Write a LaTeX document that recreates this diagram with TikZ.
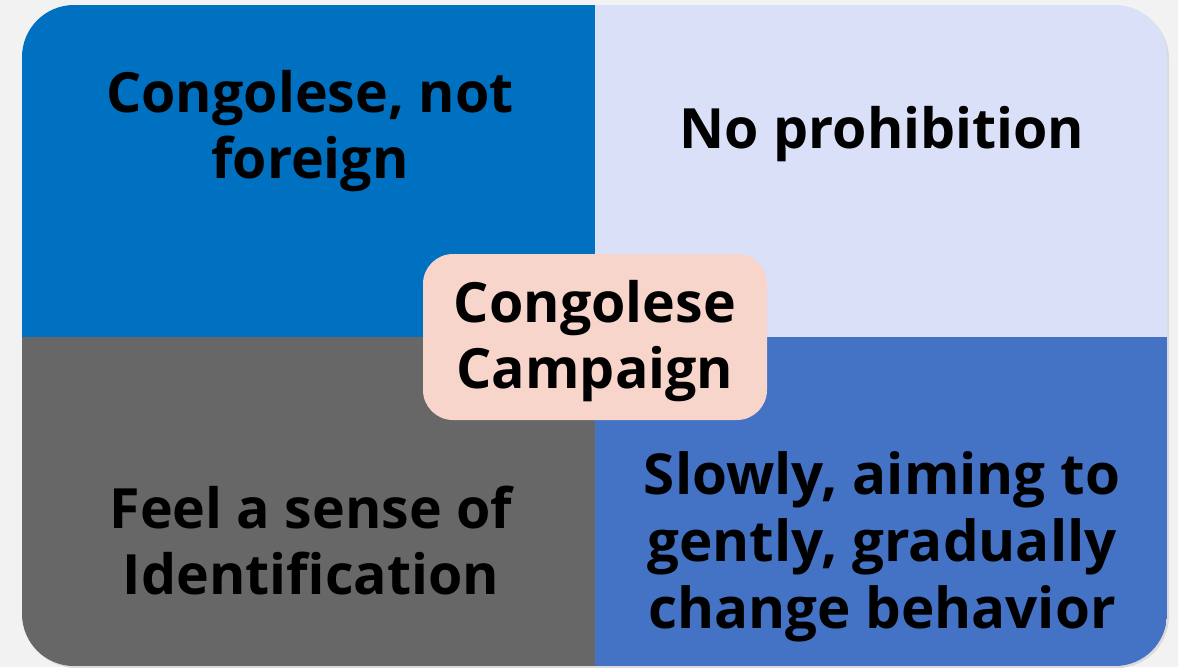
\documentclass[tikz,border=0pt]{standalone}
\usepackage{fontspec}
\setmainfont{Open Sans}
\definecolor{pagebg}{HTML}{F2F2F2}
\definecolor{qblue}{HTML}{0070C0}
\definecolor{qlav}{HTML}{DAE0F8}
\definecolor{qgrey}{HTML}{676767}
\definecolor{qsteel}{HTML}{4472C4}
\definecolor{qpeach}{HTML}{F8D5CB}
\tikzset{
  quadtext/.style={align=center, anchor=base, inner sep=0pt, text=black,
    font=\bfseries\fontsize{55.5}{66}\selectfont},
  hubbox/.style={fill=qpeach, rounded corners=30pt},
}
\begin{document}
\begin{tikzpicture}[x=1pt,y=-1pt]
  \useasboundingbox[fill=pagebg] (0,0) rectangle (1178,667);
  % soft shadow under the panel
  \fill[black!14, rounded corners=52pt] (24,7) rectangle (1169,668);
  % four quadrants clipped to one rounded panel
  \begin{scope}
    \clip[rounded corners=52pt] (22,5) rectangle (1167,666);
    \fill[qblue]  (22,5)    rectangle (595,337);
    \fill[qlav]   (595,5)   rectangle (1167,337);
    \fill[qgrey]  (22,337)  rectangle (595,666);
    \fill[qsteel] (595,337) rectangle (1167,666);
  \end{scope}
  % quadrant labels (anchor = baseline of the last line)
  \node[quadtext] (tl) at (310,178) {Congolese, not\\foreign};
  \node[quadtext] (tr) at (882,148) {No prohibition};
  \node[quadtext] (bl) at (311,594) {Feel a sense of\\Identification};
  \node[quadtext, font=\bfseries\fontsize{56.5}{67}\selectfont] (br) at (882,628)
    {Slowly, aiming to\\gently, gradually\\change behavior};
  % central box
  \fill[hubbox] (423,254) rectangle (767,420);
  \node[quadtext] (hub) at (595,388) {Congolese\\Campaign};
\end{tikzpicture}
\end{document}
